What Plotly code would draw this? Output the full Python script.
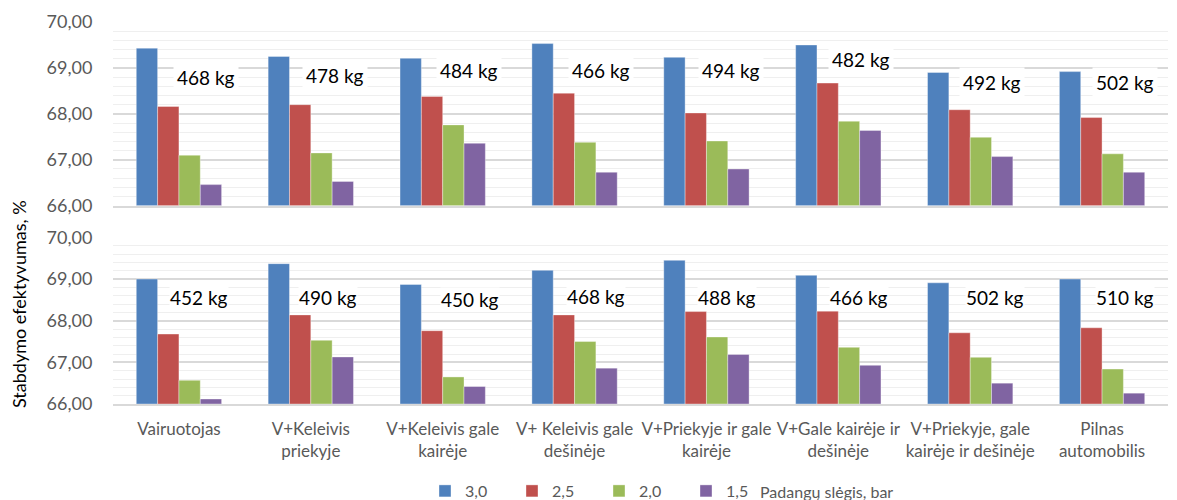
import plotly.graph_objects as go

# Loading scenarios (x categories)
categories = [
    "Vairuotojas",
    "V+Keleivis<br>priekyje",
    "V+Keleivis gale<br>kairėje",
    "V+ Keleivis gale<br>dešinėje",
    "V+Priekyje ir gale<br>kairėje",
    "V+Gale kairėje ir<br>dešinėje",
    "V+Priekyje, gale<br>kairėje ir dešinėje",
    "Pilnas<br>automobilis",
]

pressures = ["3,0", "2,5", "2,0", "1,5"]

# Upper panel: braking efficiency, %
top_30 = [69.43, 69.25, 69.21, 69.53, 69.23, 69.50, 68.90, 68.92]
top_25 = [68.16, 68.20, 68.38, 68.45, 68.02, 68.67, 68.09, 67.92]
top_20 = [67.10, 67.15, 67.76, 67.38, 67.41, 67.84, 67.49, 67.13]
top_15 = [66.46, 66.53, 67.36, 66.73, 66.80, 67.64, 67.07, 66.73]
top_mass = ["468 kg", "478 kg", "484 kg", "466 kg", "494 kg", "482 kg", "492 kg", "502 kg"]

# Lower panel: braking efficiency, %
bot_30 = [69.00, 69.37, 68.87, 69.21, 69.45, 69.09, 68.91, 69.00]
bot_25 = [67.68, 68.14, 67.76, 68.14, 68.22, 68.23, 67.71, 67.83]
bot_20 = [66.57, 67.53, 66.65, 67.50, 67.61, 67.36, 67.12, 66.84]
bot_15 = [66.12, 67.13, 66.42, 66.86, 67.19, 66.93, 66.50, 66.26]
bot_mass = ["452 kg", "490 kg", "450 kg", "468 kg", "488 kg", "466 kg", "502 kg", "510 kg"]

colors = ["#4F81BD", "#C0504D", "#9BBB59", "#8064A2"]

# Placement of the mass labels (y in axis units, x shift in px from category centre)
top_label_y = [68.80, 68.84, 68.95, 68.95, 68.95, 69.19, 68.69, 68.69]
top_label_dx = [27, 24, 26, 26, 25, 23, 22, 23]
bot_label_y = [68.55, 68.55, 68.52, 68.58, 68.55, 68.55, 68.55, 68.55]
bot_label_dx = [20, 17, 27, 21, 21, 21, 25, 23]

FONT = "Lato"
GREY = "#595959"

fig = go.Figure()

top_series = [top_30, top_25, top_20, top_15]
bot_series = [bot_30, bot_25, bot_20, bot_15]

for name, vals, col in zip(pressures, top_series, colors):
    fig.add_trace(go.Bar(
        x=categories, y=[v - 66 for v in vals], base=66, name=name,
        marker=dict(color=col, line=dict(color="rgba(255,255,255,0.6)", width=0.6)),
        xaxis="x", yaxis="y", legendgroup=name, showlegend=True,
        hovertemplate="%{x}<br>%{y:.2f}<extra>" + name + "</extra>",
    ))

for name, vals, col in zip(pressures, bot_series, colors):
    fig.add_trace(go.Bar(
        x=categories, y=[v - 66 for v in vals], base=66, name=name,
        marker=dict(color=col, line=dict(color="rgba(255,255,255,0.6)", width=0.6)),
        xaxis="x2", yaxis="y2", legendgroup=name, showlegend=False,
        hovertemplate="%{x}<br>%{y:.2f}<extra>" + name + "</extra>",
    ))

annotations = []
for cat, txt, y, dx in zip(categories, top_mass, top_label_y, top_label_dx):
    annotations.append(dict(
        x=cat, y=y, xref="x", yref="y", text=txt, xshift=dx, showarrow=False,
        font=dict(family=FONT, size=19, color="#000000"),
        bgcolor="#FFFFFF", borderpad=3,
    ))
for cat, txt, y, dx in zip(categories, bot_mass, bot_label_y, bot_label_dx):
    annotations.append(dict(
        x=cat, y=y, xref="x2", yref="y2", text=txt, xshift=dx, showarrow=False,
        font=dict(family=FONT, size=19, color="#000000"),
        bgcolor="#FFFFFF", borderpad=0,
    ))

# Shared y-axis title (pixel position, converted below)
annotations.append(dict(
    x=19, y=304, xref="paper", yref="paper", text="Stabdymo efektyvumas, %",
    xanchor="center", yanchor="middle",
    textangle=-90, showarrow=False, font=dict(family=FONT, size=18, color="#000000"),
))
# Legend caption after the pressure entries
annotations.append(dict(
    x=758, y=491, xref="paper", yref="paper", text="Padangų slėgis, bar",
    showarrow=False, xanchor="left", yanchor="middle",
    font=dict(family=FONT, size=16, color=GREY),
))

W, H = 1177, 500
ML, MR, MT, MB = 113, 9, 22, 96
pw, ph = W - ML - MR, H - MT - MB

# Convert pixel positions of free annotations into paper coordinates
for a in annotations:
    if a["xref"] == "paper" and a["yref"] == "paper":
        a["x"] = (a["x"] - ML) / pw
        a["y"] = (H - MB - a["y"]) / ph

yax_common = dict(
    range=[66, 70], dtick=1, tickformat=".2f",
    showgrid=True, gridcolor="#D9D9D9", gridwidth=1.5,
    minor=dict(dtick=0.2, showgrid=True, gridcolor="#EFEFEF", gridwidth=1),
    tickfont=dict(family=FONT, size=18, color=GREY),
    ticks="outside", ticklen=16, tickcolor="rgba(0,0,0,0)",
    zeroline=False, fixedrange=True, automargin=False,
)
xax_common = dict(
    showline=True, linecolor="#D9D9D9", linewidth=1.5,
    showgrid=False, ticks="", fixedrange=True, automargin=False,
)

fig.update_layout(
    width=W, height=H,
    margin=dict(l=ML, r=MR, t=MT, b=MB, autoexpand=False),
    paper_bgcolor="#FFFFFF", plot_bgcolor="#FFFFFF",
    separators=",.",
    barmode="group", bargap=0.353, bargroupgap=0,
    font=dict(family=FONT, color=GREY),
    xaxis=dict(domain=[0, 1], anchor="y", showticklabels=False, **xax_common),
    yaxis=dict(domain=[0.519, 1.0], anchor="x", **yax_common),
    xaxis2=dict(domain=[0, 1], anchor="y2", ticklabelstandoff=9,
                tickfont=dict(family=FONT, size=17, color=GREY), **xax_common),
    yaxis2=dict(domain=[0, 0.436], anchor="x2", **yax_common),
    legend=dict(
        orientation="h", x=(425 - ML) / pw, y=(H - MB - 491) / ph,
        xanchor="left", yanchor="middle",
        font=dict(family=FONT, size=16, color=GREY),
        entrywidth=42, entrywidthmode="pixels", itemwidth=30,
        bgcolor="rgba(0,0,0,0)", traceorder="normal",
    ),
    annotations=annotations,
)

fig.write_html("out.html")
